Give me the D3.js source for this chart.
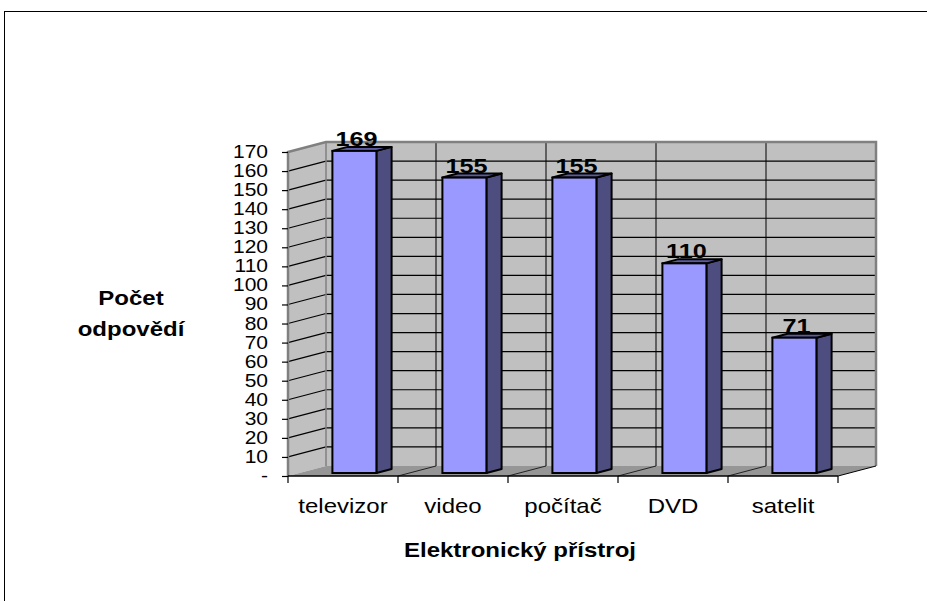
<!DOCTYPE html>
<html>
<head>
<meta charset="utf-8">
<script src="https://cdn.jsdelivr.net/npm/d3@7/dist/d3.min.js"></script>
<style>
  html, body { margin: 0; padding: 0; background: #fff; }
  svg { display: block; }
  text { font-family: "Liberation Sans", Arial, sans-serif; fill: #000; }
</style>
</head>
<body>
<svg id="chart" width="927" height="601"></svg>
<script>
// Survey answers per electronic device
const categories = ["televizor", "video", "počítač", "DVD", "satelit"];
const counts = [169, 155, 155, 110, 71];
const yTickValues = [0, 10, 20, 30, 40, 50, 60, 70, 80, 90, 100, 110, 120, 130, 140, 150, 160, 170];
const yTickLabels = ["-", "10", "20", "30", "40", "50", "60", "70", "80", "90", "100", "110", "120", "130", "140", "150", "160", "170"];
const yTitleLines = ["Počet", "odpovědí"];
const xTitle = "Elektronický přístroj";

const svg = d3.select("#chart");
const W = 927, H = 601;

// front plane of the 3D plot box
const front = { left: 288, right: 838, top: 152, bottom: 476 };
// depth vector from the front plane to the back wall
const DX = 38, DY = -10;
const STRETCH = 1.2; // wide text rendering

const x = d3.scaleBand().domain(categories).range([front.left, front.right]).paddingInner(0).paddingOuter(0);
const y = d3.scaleLinear().domain([0, 170]).range([front.bottom, front.top]);

// project a front-plane point back by depth fraction t
const P = (px, py, t) => [px + DX * t, py + DY * t];
const poly = pts => pts.map(p => p.join(",")).join(" ");

function stretchedText(g, str, tx, ty, anchor, size, weight) {
  return g.append("text")
    .attr("transform", `translate(${tx},${ty}) scale(${STRETCH},1)`)
    .attr("text-anchor", anchor)
    .attr("font-size", size)
    .attr("font-weight", weight || "normal")
    .text(str);
}

// outer frame
svg.append("rect")
  .attr("x", 4.5).attr("y", 11.5)
  .attr("width", W + 20).attr("height", H + 20)
  .attr("fill", "none").attr("stroke", "#000").attr("stroke-width", 1);

const plot = svg.append("g");
const y0 = y(0), yTop = y(170);

// side wall (left)
plot.append("polygon")
  .attr("points", poly([[front.left, yTop], P(front.left, yTop, 1), P(front.left, y0, 1), [front.left, y0]]))
  .attr("fill", "#c0c0c0");

// back wall
const bw = { l: front.left + DX, r: front.right + DX, t: yTop + DY, b: y0 + DY };
plot.append("rect")
  .attr("x", bw.l).attr("y", bw.t).attr("width", bw.r - bw.l).attr("height", bw.b - bw.t)
  .attr("fill", "#c0c0c0");

// floor
plot.append("polygon")
  .attr("points", poly([[front.left, y0], [front.right, y0], P(front.right, y0, 1), P(front.left, y0, 1)]))
  .attr("fill", "#969696");

// horizontal gridlines on back wall and side wall
yTickValues.forEach(v => {
  if (v === 0 || v === 170) return;
  const yy = y(v);
  plot.append("line")
    .attr("x1", bw.l).attr("x2", bw.r).attr("y1", yy + DY).attr("y2", yy + DY)
    .attr("stroke", "#000").attr("stroke-width", 1.2);
  const a = [front.left, yy], b = P(front.left, yy, 1);
  plot.append("line")
    .attr("x1", a[0]).attr("y1", a[1]).attr("x2", b[0]).attr("y2", b[1])
    .attr("stroke", "#000").attr("stroke-width", 1.2);
});

// category separators on back wall and floor
const bounds = categories.map(c => x(c)).concat([front.right]);
bounds.slice(1, -1).forEach(bx => {
  plot.append("line")
    .attr("x1", bx + DX).attr("x2", bx + DX).attr("y1", bw.t).attr("y2", bw.b)
    .attr("stroke", "#000").attr("stroke-width", 1);
  const b = P(bx, y0, 1);
  plot.append("line")
    .attr("x1", bx).attr("y1", y0).attr("x2", b[0]).attr("y2", b[1])
    .attr("stroke", "#222").attr("stroke-width", 1);
});

// wall edges
plot.append("polyline")
  .attr("points", poly([[front.left, y0], [front.left, yTop], P(front.left, yTop, 1), [bw.r, bw.t], [bw.r, bw.b]]))
  .attr("fill", "none").attr("stroke", "#808080").attr("stroke-width", 2.5).attr("stroke-linejoin", "miter");
plot.append("line")
  .attr("x1", bw.l).attr("x2", bw.l).attr("y1", bw.t).attr("y2", bw.b)
  .attr("stroke", "#808080").attr("stroke-width", 1.5);
plot.append("line")
  .attr("x1", front.right).attr("y1", y0).attr("x2", bw.r).attr("y2", bw.b)
  .attr("stroke", "#000").attr("stroke-width", 1);
plot.append("line")
  .attr("x1", front.left).attr("y1", y0).attr("x2", front.right).attr("y2", y0)
  .attr("stroke", "#000").attr("stroke-width", 1.5);

// y axis ticks and labels
const yAxis = d3.axisLeft(y).tickValues(yTickValues).tickSize(6).tickFormat("");
const yAxisG = plot.append("g").attr("transform", `translate(${front.left},0)`).call(yAxis);
yAxisG.select(".domain").remove();
yAxisG.selectAll(".tick line").attr("stroke", "#000").attr("stroke-width", 1.2);
yTickValues.forEach((v, i) => {
  stretchedText(plot, yTickLabels[i], 268, y(v) + 6, "end", 17.5);
});

// x axis: ticks at category boundaries, labels centred in each band
bounds.forEach(bx => {
  plot.append("line").attr("x1", bx).attr("x2", bx).attr("y1", y0).attr("y2", y0 + 7)
    .attr("stroke", "#000").attr("stroke-width", 1.2);
});
categories.forEach(c => {
  stretchedText(plot, c, x(c) + x.bandwidth() / 2, 513, "middle", 20);
});

// 3D bars, placed between depth 0.3 and 0.7
const t1 = 0.3, t2 = 0.7;
const bwid = x.bandwidth() / 2.5;
const bars = plot.append("g");
categories.forEach((c, i) => {
  const v = counts[i];
  const xl = x(c) + (x.bandwidth() - bwid) / 2;
  const xr = xl + bwid;
  const fl = P(xl, y(v), t1), fr = P(xr, y(v), t1);
  const fbl = P(xl, y0, t1), fbr = P(xr, y0, t1);
  const bl = P(xl, y(v), t2), br = P(xr, y(v), t2), bbr = P(xr, y0, t2);
  // side face
  bars.append("polygon").attr("points", poly([fr, br, bbr, fbr]))
    .attr("fill", "#4d4d80").attr("stroke", "#000").attr("stroke-width", 2).attr("stroke-linejoin", "round");
  // top face
  bars.append("polygon").attr("points", poly([fl, fr, br, bl]))
    .attr("fill", "#5c5ca3").attr("stroke", "#000").attr("stroke-width", 2).attr("stroke-linejoin", "round");
  // front face
  bars.append("rect").attr("x", fl[0]).attr("y", fl[1]).attr("width", bwid).attr("height", fbl[1] - fl[1])
    .attr("fill", "#9999ff").attr("stroke", "#000").attr("stroke-width", 2);
  // value label
  stretchedText(bars, String(v), (fl[0] + fr[0]) / 2 + 2, fl[1] - 5, "middle", 21, "bold");
});

// axis titles
stretchedText(svg, yTitleLines[0], 131, 305, "middle", 20, "bold");
stretchedText(svg, yTitleLines[1], 131, 336, "middle", 20, "bold");
stretchedText(svg, xTitle, 520, 557, "middle", 20, "bold");
</script>
</body>
</html>
